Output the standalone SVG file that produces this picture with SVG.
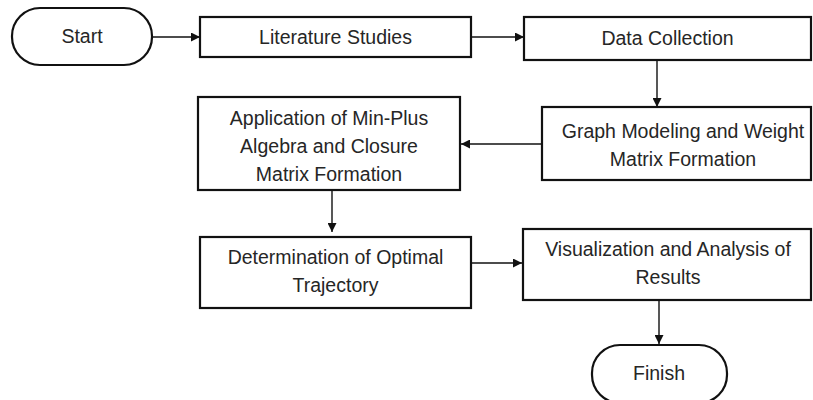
<svg xmlns="http://www.w3.org/2000/svg" width="813" height="400" viewBox="0 0 813 400">
<defs>
<style>
.box{fill:#fff;stroke:#111;stroke-width:2.2}
.t{font-family:"Liberation Sans",Arial,sans-serif;font-size:19.5px;fill:#262626;text-anchor:middle}
.c{stroke:#111;stroke-width:1.4;fill:none;marker-end:url(#ah)}
</style>
<marker id="ah" viewBox="0 0 10 10" refX="10" refY="5" markerWidth="9" markerHeight="9" markerUnits="userSpaceOnUse" orient="auto">
<path d="M0,0 L10,5 L0,10 Z" fill="#111"/>
</marker>
</defs>
<rect width="813" height="400" fill="#fff"/>
<g id="connectors">
<line class="c" x1="152" y1="37" x2="200" y2="37"/>
<line class="c" x1="472" y1="37" x2="524" y2="37"/>
<line class="c" x1="657" y1="60" x2="657" y2="107"/>
<line class="c" x1="542" y1="144" x2="461" y2="144"/>
<line class="c" x1="332" y1="190" x2="332" y2="232"/>
<line class="c" x1="471" y1="263" x2="522" y2="263"/>
<line class="c" x1="659" y1="300" x2="659" y2="344"/>
</g>
<g id="start">
<rect class="box" x="12" y="8" width="140" height="57" rx="28" ry="28"/>
<text class="t" x="82" y="43">Start</text>
</g>
<g id="literature">
<rect class="box" x="200" y="17" width="271" height="40"/>
<text class="t" x="335.5" y="44">Literature Studies</text>
</g>
<g id="data">
<rect class="box" x="524" y="17" width="287" height="43"/>
<text class="t" x="667.5" y="45">Data Collection</text>
</g>
<g id="graph">
<rect class="box" x="542" y="107" width="269" height="73"/>
<text class="t" x="683" y="138">Graph Modeling and Weight</text>
<text class="t" x="683" y="166">Matrix Formation</text>
</g>
<g id="application">
<rect class="box" x="198" y="97" width="262" height="93"/>
<text class="t" x="329" y="125">Application of Min-Plus</text>
<text class="t" x="329" y="153">Algebra and Closure</text>
<text class="t" x="329" y="181">Matrix Formation</text>
</g>
<g id="determination">
<rect class="box" x="200" y="237" width="271" height="71"/>
<text class="t" x="335.5" y="264">Determination of Optimal</text>
<text class="t" x="335.5" y="292">Trajectory</text>
</g>
<g id="visualization">
<rect class="box" x="523" y="229" width="288" height="71"/>
<text class="t" x="668" y="256">Visualization and Analysis of</text>
<text class="t" x="668" y="284">Results</text>
</g>
<g id="finish">
<rect class="box" x="592" y="345" width="135" height="58" rx="28" ry="28"/>
<text class="t" x="659" y="380">Finish</text>
</g>
</svg>
